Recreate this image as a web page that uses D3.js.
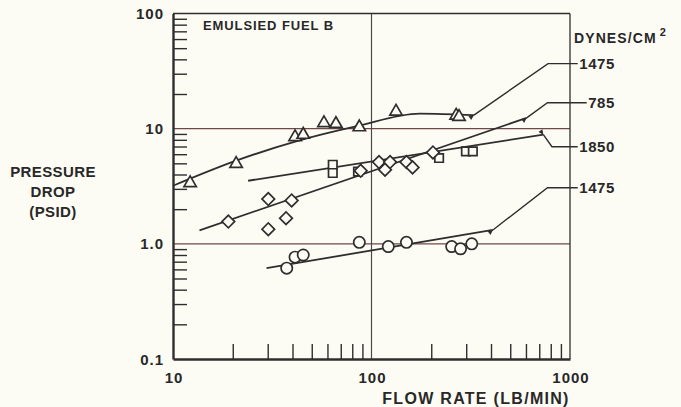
<!DOCTYPE html>
<html><head><meta charset="utf-8">
<script src="https://cdn.jsdelivr.net/npm/d3@7"></script>
<style>
body{margin:0;background:#fdfcf4}
svg{display:block}
text{font-family:"Liberation Sans",Arial,sans-serif;font-weight:bold;fill:#282828}
</style></head><body>
<svg width="681" height="407"></svg>
<script>
// triangles (1475, upper)
const triX = [12.2, 20.8, 41.2, 45.3, 57.6, 66.2, 86.8, 132.9, 267, 276]
const triY = [3.37, 4.96, 8.47, 8.87, 11.2, 11.0, 10.3, 14.1, 13.0, 12.7]
const triFitX = [10, 20.8, 42.1, 84.5, 175, 328]
const triFitY = [3.19, 5.27, 7.79, 10.5, 13.5, 13.1]

// diamonds (785)
const diaX = [19.0, 30.2, 30.2, 39.6, 37.1, 88.2, 109.1, 117, 124, 150, 161, 204]
const diaY = [1.56, 2.45, 1.34, 2.38, 1.67, 4.31, 5.13, 4.40, 5.13, 5.13, 4.61, 6.22]
const diaFitX = [13.6, 605]
const diaFitY = [1.31, 12.4]

// squares (1850)
const sqX = [63.8, 63.8, 85.5, 219, 299, 324]
const sqY = [4.86, 4.12, 4.23, 5.56, 6.35, 6.35]
const sqFitX = [23.9, 734]
const sqFitY = [3.53, 8.87]

// circles (1475, lower)
const cirX = [37.4, 41.2, 45.3, 86.8, 121.5, 150, 253.5, 281, 320]
const cirY = [0.615, 0.766, 0.80, 1.03, 0.947, 1.03, 0.947, 0.905, 1.0]
const cirFitX = [29.6, 409]
const cirFitY = [0.615, 1.32]

// right-hand labels
const labelNames = ['1475', '785', '1850', '1475']
const labelY = [36.7, 16.8, 6.97, 3.07]
const elbowX = [775, 770, 811, 770]

const xTickLabels = [10, 100, 1000]
const yTickLabels = [0.1, 1, 10, 100]
const yTickText = ['0.1', '1.0', '10', '100']

const ink = '#2e2e2e'
const bg = '#fdfcf4'

const svg = d3.select('svg')
svg.append('rect').attr('width', 681).attr('height', 407).attr('fill', bg)

const x = d3.scaleLog().domain([10, 1000]).range([173, 570])
const y = d3.scaleLog().domain([0.1, 100]).range([359, 13.5])

const zip = (a, b) => a.map((v, i) => [v, b[i]])
const isDecade = v => Math.abs(Math.log10(v) - Math.round(Math.log10(v))) < 1e-6

// gridlines
svg.append('g').selectAll('line').data([1, 10]).enter().append('line')
    .attr('x1', x(10)).attr('x2', x(1000))
    .attr('y1', d => y(d)).attr('y2', d => y(d))
    .attr('stroke', '#6e4848').attr('stroke-width', 1.1)
svg.append('line')
    .attr('x1', x(100)).attr('x2', x(100)).attr('y1', y(100)).attr('y2', y(0.1))
    .attr('stroke', '#4a4a4a').attr('stroke-width', 1.2)

// frame top / right
svg.append('line').attr('x1', x(10)).attr('x2', x(1000)).attr('y1', y(100)).attr('y2', y(100))
    .attr('stroke', ink).attr('stroke-width', 1.3)
svg.append('line').attr('x1', x(1000)).attr('x2', x(1000)).attr('y1', y(100)).attr('y2', y(0.1))
    .attr('stroke', ink).attr('stroke-width', 1.3)

// minor ticks, inside
const xAxis = d3.axisBottom(x)
    .tickValues(x.ticks().filter(d => !isDecade(d)))
    .tickSizeInner(-15).tickSizeOuter(0).tickFormat('')
const gx = svg.append('g').attr('transform', `translate(0,${y(0.1)})`).call(xAxis)
gx.select('.domain').attr('stroke', ink).attr('stroke-width', 2.4)
gx.selectAll('.tick line').attr('stroke', ink).attr('stroke-width', 1.4)

const yAxis = d3.axisLeft(y)
    .tickValues(y.ticks().filter(d => !isDecade(d)))
    .tickSizeInner(-14).tickSizeOuter(0).tickFormat('')
const gy = svg.append('g').attr('transform', `translate(${x(10)},0)`).call(yAxis)
gy.select('.domain').attr('stroke', ink).attr('stroke-width', 2.4)
gy.selectAll('.tick line').attr('stroke', ink).attr('stroke-width', 1.4)

// tick labels
svg.append('g').selectAll('text').data(xTickLabels).enter().append('text')
    .attr('x', d => x(d) + 1).attr('y', 383)
    .attr('text-anchor', 'middle').style('font-size', '15px').style('letter-spacing', '1px')
    .text(d => d)
svg.append('g').selectAll('text').data(yTickLabels).enter().append('text')
    .attr('x', x(10) - 9).attr('y', d => y(d) + 5.5)
    .attr('text-anchor', 'end').style('font-size', '15px').style('letter-spacing', '1px')
    .text((d, i) => yTickText[i])

// axis titles
svg.append('text').attr('x', 476).attr('y', 403.5).attr('text-anchor', 'middle')
    .style('font-size', '16px').style('letter-spacing', '1.3px')
    .text('FLOW RATE (LB/MIN)')
const yTitle = svg.append('text').attr('text-anchor', 'middle').style('font-size', '15px')
    .style('letter-spacing', '0.4px')
;['PRESSURE', 'DROP', '(PSID)'].forEach((t, i) => {
    yTitle.append('tspan').attr('x', 53).attr('y', 177 + i * 20).text(t)
})

svg.append('text').attr('x', 203).attr('y', 30)
    .style('font-size', '13px').style('letter-spacing', '0.9px')
    .text('EMULSIED FUEL B')

const dyn = svg.append('text').attr('x', 574).attr('y', 43)
    .style('font-size', '14px').style('letter-spacing', '1.1px')
dyn.append('tspan').text('DYNES/CM')
dyn.append('tspan').attr('dx', 3).attr('dy', -7).style('font-size', '11px').text('2')

// fitted lines
const line = d3.line().x(d => x(d[0])).y(d => y(d[1]))
const fits = [
    { pts: zip(triFitX, triFitY), curve: d3.curveMonotoneX },
    { pts: zip(diaFitX, diaFitY), curve: d3.curveLinear },
    { pts: zip(sqFitX, sqFitY), curve: d3.curveLinear },
    { pts: zip(cirFitX, cirFitY), curve: d3.curveLinear }
]
fits.forEach(f => {
    svg.append('path').attr('d', line.curve(f.curve)(f.pts))
        .attr('fill', 'none').attr('stroke', ink).attr('stroke-width', 1.8)
})

// leaders with arrowheads
svg.append('defs').append('marker')
    .attr('id', 'arr').attr('viewBox', '0 0 10 10').attr('refX', 0).attr('refY', 5)
    .attr('markerWidth', 8).attr('markerHeight', 5).attr('orient', 'auto-start-reverse')
    .attr('markerUnits', 'userSpaceOnUse')
    .append('path').attr('d', 'M10,0L0,5L10,10z').attr('fill', ink)

const ends = fits.map(f => f.pts[f.pts.length - 1])
labelNames.forEach((name, i) => {
    const t = svg.append('text').attr('x', 615).attr('y', y(labelY[i]) + 5.5)
        .attr('text-anchor', 'end').style('font-size', '15px').style('letter-spacing', '0.6px')
        .text(name)
    const tx = t.node().getBBox().x - 1.5
    const p = [[x(ends[i][0]), y(ends[i][1])], [x(elbowX[i]), y(labelY[i])], [tx, y(labelY[i])]]
    svg.append('path').attr('d', d3.line()(p))
        .attr('fill', 'none').attr('stroke', ink).attr('stroke-width', 1.4)
        .attr('marker-start', 'url(#arr)')
})

// markers
const drawSym = (xs, ys, type, size, rot) => {
    svg.append('g').selectAll('path').data(zip(xs, ys)).enter().append('path')
        .attr('d', d3.symbol().type(type).size(size))
        .attr('transform', d => `translate(${x(d[0])},${y(d[1])}) rotate(${rot})`)
        .attr('stroke', ink).attr('stroke-width', 1.7).attr('fill', bg)
}
drawSym(sqX, sqY, d3.symbolSquare, 72, 0)
drawSym(diaX, diaY, d3.symbolSquare, 80, 45)
drawSym(triX, triY, d3.symbolTriangle, 66, 0)
drawSym(cirX, cirY, d3.symbolCircle, 100, 0)
</script>
</body></html>
